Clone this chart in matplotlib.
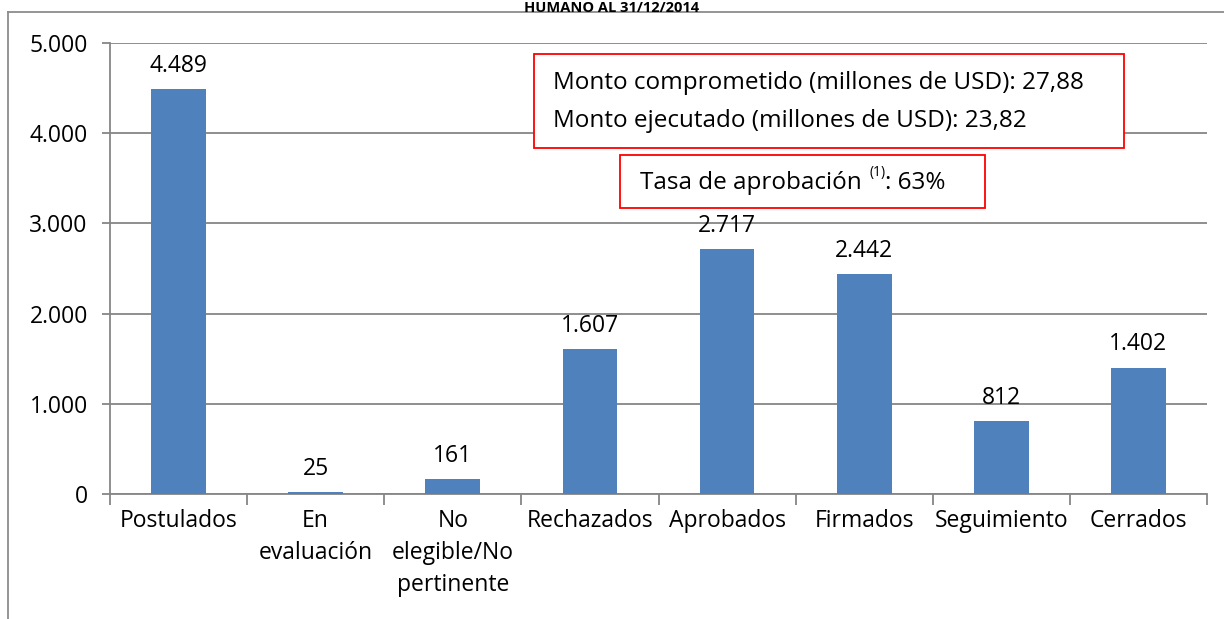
import matplotlib
matplotlib.use("Agg")
import matplotlib.pyplot as plt
from matplotlib.patches import Rectangle
from matplotlib.lines import Line2D
from matplotlib.ticker import FuncFormatter

plt.rcParams['font.family'] = ['Open Sans', 'DejaVu Sans']

# -------- DATA --------
categorias = ["Postulados", "En\nevaluación", "No\nelegible/No\npertinente",
              "Rechazados", "Aprobados", "Firmados", "Seguimiento", "Cerrados"]
valores = [4489, 25, 161, 1607, 2717, 2442, 812, 1402]
etiquetas = ["4.489", "25", "161", "1.607", "2.717", "2.442", "812", "1.402"]
y_ticks = [0, 1000, 2000, 3000, 4000, 5000]

titulo = "HUMANO AL 31/12/2014"
linea1 = "Monto comprometido (millones de USD): 27,88"
linea2 = "Monto ejecutado (millones de USD): 23,82"
tasa_txt = "Tasa de aprobación "
tasa_sup = "(1)"
tasa_val = ": 63%"

W, H = 1224, 619
FS = 16.5
FS_BOX = 17.5
fig = plt.figure(figsize=(W / 100, H / 100), dpi=100)

def px(x, y):
    # pixel coords (top-left origin) -> figure fraction
    return x / W, 1 - y / H

# -------- OUTER FRAME --------
gris = "#8c8c8c"
fig.add_artist(Line2D([8 / W, 1.0], [1 - 12 / H] * 2, color=gris, lw=1.3,
                      transform=fig.transFigure))
fig.add_artist(Line2D([8 / W] * 2, [0, 1 - 12 / H], color=gris, lw=1.3,
                      transform=fig.transFigure))

# -------- TITLE --------
fig.text(612 / W, 1 - 0.5 / H, titulo, ha='center', va='top',
         fontsize=10.5, fontweight='bold')

# -------- AXES --------
ax_l, ax_r, ax_t, ax_b = 110, 1207, 43, 494
ax = fig.add_axes([ax_l / W, 1 - ax_b / H, (ax_r - ax_l) / W, (ax_b - ax_t) / H])

x = list(range(len(categorias)))
ax.bar(x, valores, width=0.4, color="#4F81BD", zorder=3)
ax.set_xlim(-0.5, len(categorias) - 0.5)
ax.set_ylim(0, 5000)
ax.set_yticks(y_ticks)
ax.yaxis.set_major_formatter(FuncFormatter(lambda v, p: f"{int(v):,}".replace(",", ".")))
ax.grid(axis='y', color="#868686", lw=1.3, zorder=0)
for s in ['top', 'right']:
    ax.spines[s].set_visible(False)
ax.spines['left'].set_color("#868686")
ax.spines['bottom'].set_color("#868686")
ax.spines['left'].set_linewidth(1.3)
ax.spines['bottom'].set_linewidth(1.3)

ax.set_xticks([i - 0.5 for i in range(len(categorias) + 1)], minor=False)
ax.set_xticklabels([])
ax.tick_params(axis='x', length=8, color="#868686", width=1.3, direction='out')
ax.tick_params(axis='y', length=6, color="#868686", width=1.3, labelsize=FS, pad=10)
ax.set_xticks(x, minor=True)
ax.set_xticklabels(categorias, minor=True, fontsize=FS, linespacing=1.45, va='top')
ax.tick_params(axis='x', which='minor', length=0, pad=11)

for i, (v, t) in enumerate(zip(valores, etiquetas)):
    ax.annotate(t, (i, v), xytext=(0, 8), textcoords='offset points',
                ha='center', va='bottom', fontsize=FS)

# -------- TEXT BOXES --------
fig.add_artist(Rectangle(px(534, 148), (1124 - 534) / W, (148 - 54) / H,
                         fill=True, facecolor='white', edgecolor='red', lw=1.3,
                         transform=fig.transFigure, zorder=5))
fig.text(*px(553, 83), linea1, ha='left', va='center', fontsize=FS_BOX, zorder=6)
fig.text(*px(553, 121), linea2, ha='left', va='center', fontsize=FS_BOX, zorder=6)

fig.add_artist(Rectangle(px(620, 208), (985 - 620) / W, (208 - 155) / H,
                         fill=True, facecolor='white', edgecolor='red', lw=1.3,
                         transform=fig.transFigure, zorder=5))
r = fig.canvas.get_renderer()
t1 = fig.text(*px(640, 183), tasa_txt, ha='left', va='center', fontsize=FS_BOX, zorder=6)
bb = t1.get_window_extent(r)
t2 = fig.text(bb.x1 / W + 1 / W, 1 - 173 / H, tasa_sup, ha='left', va='center',
              fontsize=10, zorder=6)
bb2 = t2.get_window_extent(r)
fig.text(bb2.x1 / W, 1 - 183 / H, tasa_val, ha='left', va='center', fontsize=FS_BOX, zorder=6)

fig.savefig("out.png", dpi=100)
